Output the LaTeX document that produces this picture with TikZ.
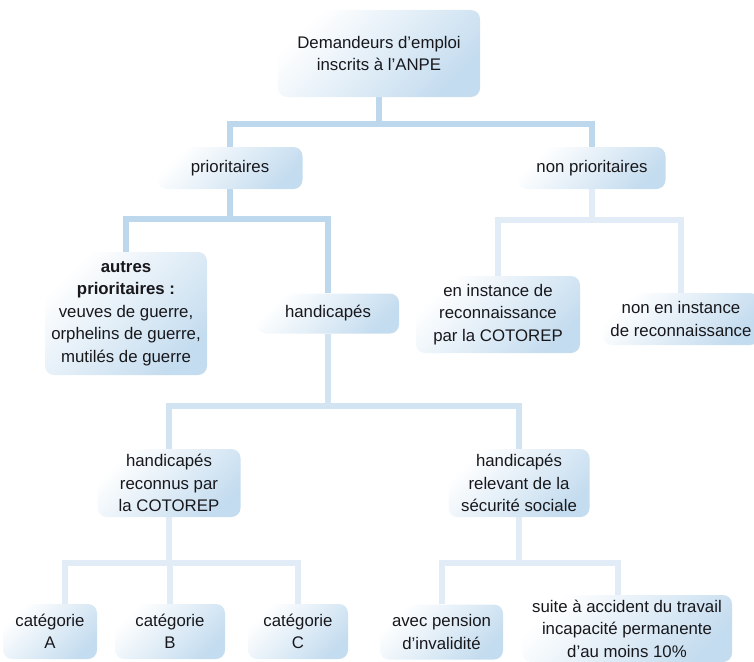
\documentclass[tikz,border=0pt]{standalone}
\usepackage{fontspec}
\setmainfont{Liberation Sans}
\usetikzlibrary{positioning,backgrounds}
\definecolor{BoxBlue}{RGB}{196,220,239}
\definecolor{LinkBlue}{RGB}{189,216,236}
\definecolor{LinkMid}{RGB}{210,227,242}
\definecolor{LinkPale}{RGB}{226,236,246}
\definecolor{TextGrey}{RGB}{24,24,28}

\begin{document}
\begin{tikzpicture}[x=1pt,y=-1pt,
    box/.style={rounded corners=9pt,top color=white,middle color=BoxBlue!35,bottom color=BoxBlue,shading angle=45,
      align=center,inner sep=0pt,text=TextGrey,font=\fontsize{16.8}{22.5}\selectfont},
    link/.style={line width=6pt,LinkBlue},
    linkmid/.style={line width=6pt,LinkMid},
    linkpale/.style={line width=6pt,LinkPale}]
  \useasboundingbox (0,0) rectangle (754,661);
  % first levels
  \node[box,minimum width=202pt,minimum height=87pt] (anpe) at (379,53.5) {Demandeurs d’emploi\\inscrits à l’ANPE};
  \node[box,minimum width=145pt,minimum height=42pt] (prio) at (230,168) {prioritaires};
  \node[box,minimum width=147pt,minimum height=42pt] (nonprio) at (592,168) {non prioritaires};
  \node[box,minimum width=162pt,minimum height=123pt] (autres) at (126,313.5) {\textbf{autres}\\\textbf{prioritaires :}\\veuves de guerre,\\orphelins de guerre,\\mutilés de guerre};
  \node[box,minimum width=142pt,minimum height=40pt] (handi) at (328,313.5) {handicapés};
  \node[box,minimum width=164pt,minimum height=77pt] (instance) at (498,314.5) {en instance de\\reconnaissance\\par la COTOREP};
  \node[box,minimum width=156pt,minimum height=52pt] (noninst) at (681,319) {non en instance\\de reconnaissance};
  % handicapés
  \node[box,minimum width=143pt,minimum height=68pt] (cotorep) at (169,483) {handicapés\\reconnus par\\la COTOREP};
  \node[box,minimum width=141pt,minimum height=68pt] (secu) at (519,483) {handicapés\\relevant de la\\sécurité sociale};
  \node[box,minimum width=94pt,minimum height=55pt] (catA) at (50,631.5) {catégorie\\A};
  \node[box,minimum width=110pt,minimum height=55pt] (catB) at (170,631.5) {catégorie\\B};
  \node[box,minimum width=100pt,minimum height=55pt] (catC) at (298,631.5) {catégorie\\C};
  \node[box,minimum width=123pt,minimum height=55pt] (pension) at (441.5,632) {avec pension\\d’invalidité};
  \node[box,minimum width=210pt,minimum height=67pt] (accident) at (627,628.5) {suite à accident du travail\\incapacité permanente\\d’au moins 10\%};
  % connectors
  \begin{scope}[on background layer]
    \path (anpe.south) ++(0,27) coordinate (j1);
    \path (prio.south) ++(0,30) coordinate (j2);
    \path (nonprio.south) ++(0,31) coordinate (j3);
    \path (handi.south) ++(0,72.5) coordinate (j4);
    \path (cotorep.south) ++(0,46) coordinate (j5);
    \path (secu.south) ++(0,46) coordinate (j6);
    \draw[link] (anpe.south) -- (j1) -| (prio.north);
    \draw[link] (j1) -| (nonprio.north);
    \draw[link] (prio.south) -- (j2) -| (autres.north);
    \draw[link] (j2) -| (handi.north);
    \draw[linkpale] (nonprio.south) -- (j3) -| (instance.north);
    \draw[linkpale] (j3) -| (noninst.north);
    \draw[linkmid] (handi.south) -- (j4) -| (cotorep.north);
    \draw[linkmid] (j4) -| (secu.north);
    \draw[linkpale] (cotorep.south) -- (j5) -| ([xshift=15pt]catA.north);
    \draw[linkpale] (j5) -| (catB.north);
    \draw[linkpale] (j5) -| (catC.north);
    \draw[linkpale] (secu.south) -- (j6) -| (pension.north);
    \draw[linkpale] (j6) -| ([xshift=-9pt]accident.north);
  \end{scope}
\end{tikzpicture}
\end{document}
